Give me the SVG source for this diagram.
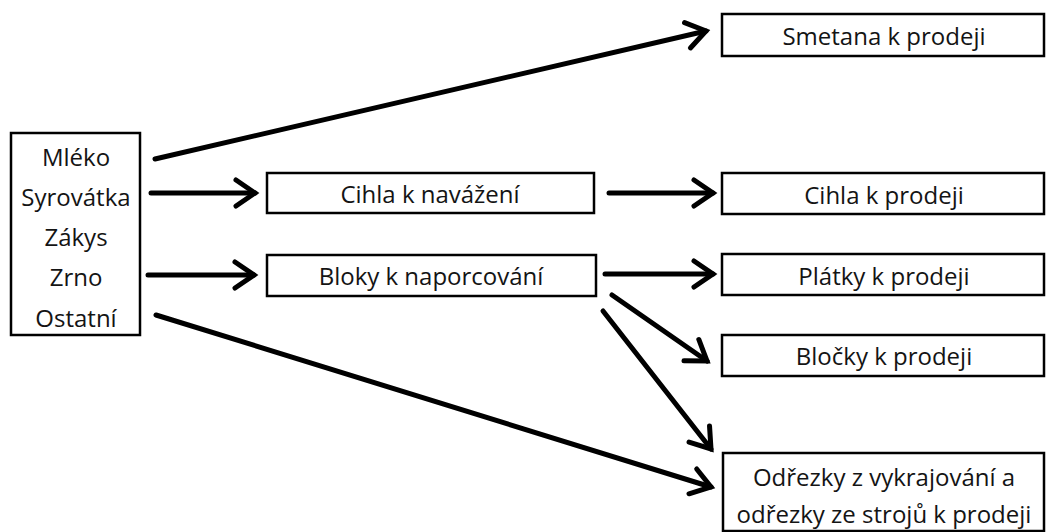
<svg xmlns="http://www.w3.org/2000/svg" width="1047" height="532" viewBox="0 0 1047 532">
<style>
.box{fill:#fff;stroke:#000;stroke-width:2.5}
.t{font-family:"Open Sans","Liberation Sans",sans-serif;font-size:24px;fill:#141414;text-anchor:middle;dominant-baseline:central}
.c{stroke:#000;stroke-width:5;fill:none;stroke-linecap:round;marker-end:url(#ah)}
</style>
<defs>
<marker id="ah" markerUnits="userSpaceOnUse" markerWidth="40" markerHeight="40" viewBox="-25 -20 30 40" refX="0" refY="0" orient="auto">
<path d="M-19,-13 L0,0 L-19,13" fill="none" stroke="#000" stroke-width="5" stroke-linecap="round" stroke-linejoin="miter"/>
</marker>
</defs>
<rect width="1047" height="532" fill="#fff"/>
<g id="connectors">
<line class="c" x1="155" y1="159" x2="706" y2="31"/>
<line class="c" x1="151" y1="193" x2="255" y2="193"/>
<line class="c" x1="148" y1="275" x2="254" y2="275"/>
<line class="c" x1="156" y1="315" x2="711" y2="487"/>
<line class="c" x1="609" y1="193" x2="713" y2="193"/>
<line class="c" x1="605" y1="274" x2="713" y2="274"/>
<line class="c" x1="612" y1="295" x2="707" y2="361"/>
<line class="c" x1="603" y1="311" x2="711" y2="449"/>
</g>
<g id="source">
<rect class="box" x="11" y="133" width="129" height="202"/>
<text class="t" x="76" y="156">Mléko</text>
<text class="t" x="76" y="196">Syrovátka</text>
<text class="t" x="76" y="236">Zákys</text>
<text class="t" x="76" y="276">Zrno</text>
<text class="t" x="76" y="317">Ostatní</text>
</g>
<g id="smetana">
<rect class="box" x="722" y="14" width="322" height="42"/>
<text class="t" x="884" y="35">Smetana k prodeji</text>
</g>
<g id="cihla-navazeni">
<rect class="box" x="267" y="173" width="327" height="40"/>
<text class="t" x="430" y="193">Cihla k navážení</text>
</g>
<g id="bloky">
<rect class="box" x="267" y="255" width="329" height="41"/>
<text class="t" x="431" y="275">Bloky k naporcování</text>
</g>
<g id="cihla-prodej">
<rect class="box" x="722" y="173" width="322" height="41"/>
<text class="t" x="884" y="194">Cihla k prodeji</text>
</g>
<g id="platky">
<rect class="box" x="722" y="254" width="322" height="41"/>
<text class="t" x="884" y="275">Plátky k prodeji</text>
</g>
<g id="blocky">
<rect class="box" x="722" y="335" width="322" height="41"/>
<text class="t" x="884" y="355">Bločky k prodeji</text>
</g>
<g id="odrezky">
<rect class="box" x="723" y="453" width="321" height="78"/>
<text class="t" x="884" y="476">Odřezky z vykrajování a</text>
<text class="t" x="884" y="513">odřezky ze strojů k prodeji</text>
</g>
</svg>
